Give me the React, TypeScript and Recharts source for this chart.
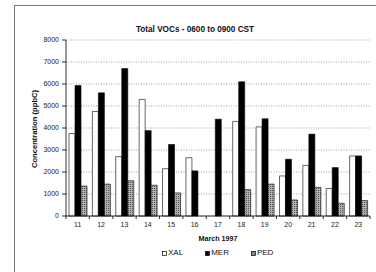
import { BarChart, Bar, XAxis, YAxis, CartesianGrid } from "recharts";

// March 1997 days
const days = ["11", "12", "13", "14", "15", "16", "17", "18", "19", "20", "21", "22", "23"];
// total VOCs, ppbC
const xal = [3750, 4750, 2700, 5300, 2150, 2650, 0, 4300, 4050, 1820, 2300, 1250, 2730];
const mer = [5930, 5600, 6700, 3880, 3250, 2050, 4400, 6100, 4420, 2580, 3720, 2200, 2730];
const ped = [1360, 1450, 1600, 1400, 1050, 0, 0, 1200, 1450, 730, 1300, 580, 700];
const yTicks = [0, 1000, 2000, 3000, 4000, 5000, 6000, 7000, 8000];

const series = [
  { key: "XAL", fill: "#ffffff" },
  { key: "MER", fill: "#000000" },
  { key: "PED", fill: "url(#pedHatch)" },
];

const FONT = "'Liberation Sans', Arial, sans-serif";

function DayTick(props: any) {
  const { x, y, payload, index, visibleTicksCount } = props;
  const half = payload.offset ?? 11.7;
  return (
    <g>
      <line x1={x - half} x2={x - half} y1={y - 8} y2={y - 5} stroke="#000" strokeWidth={0.8} />
      {index === visibleTicksCount - 1 && (
        <line x1={x + half} x2={x + half} y1={y - 8} y2={y - 5} stroke="#000" strokeWidth={0.8} />
      )}
      <text x={x} y={y + 2.5} textAnchor="middle" fontSize={7} fontFamily={FONT} fill="#222">
        {payload.value}
      </text>
    </g>
  );
}

export default function App() {
  const data = days.map((d, i) => ({ day: d, XAL: xal[i], MER: mer[i], PED: ped[i] }));

  return (
    <div style={{ position: "absolute", left: 0, top: 0, width: 376, height: 272, background: "#fff", overflow: "hidden" }}>
      <div
        style={{
          position: "absolute",
          left: 14,
          top: 5,
          width: 400,
          height: 300,
          borderTop: "1px solid #777",
          borderLeft: "1px solid #777",
        }}
      />
      <div
        style={{
          position: "absolute",
          left: 14,
          width: 362,
          top: 25,
          textAlign: "center",
          fontFamily: FONT,
          fontWeight: "bold",
          fontSize: 8.2,
          color: "#111",
        }}
      >
        Total VOCs - 0600 to 0900 CST
      </div>
      <div style={{ position: "absolute", left: 0, top: 0 }}>
        <BarChart
          width={376}
          height={272}
          data={data}
          margin={{ top: 40, right: 6, bottom: 26, left: 36 }}
          barGap={0}
          barSize={6}
        >
          <defs>
            <pattern id="pedHatch" width="2" height="2" patternUnits="userSpaceOnUse">
              <rect width="2" height="2" fill="#b0b0b0" />
              <rect width="1" height="1" fill="#555" />
            </pattern>
          </defs>
          <CartesianGrid vertical={false} stroke="#666" strokeDasharray="1 1.5" strokeWidth={0.6} />
          <XAxis
            dataKey="day"
            height={30}
            axisLine={{ stroke: "#000", strokeWidth: 0.8 }}
            tickLine={false}
            interval={0}
            tick={<DayTick />}
            label={{
              value: "March 1997",
              position: "insideBottom",
              offset: 5,
              style: { fontFamily: FONT, fontWeight: "bold", fontSize: 7.2, fill: "#111" },
            }}
          />
          <XAxis xAxisId="top" orientation="top" dataKey="day" tick={false} tickLine={false} height={0} axisLine={{ stroke: "#777", strokeWidth: 0.8 }} />
          <YAxis
            width={30}
            domain={[0, 8000]}
            ticks={yTicks}
            interval={0}
            tickSize={4}
            tickMargin={3}
            axisLine={{ stroke: "#000", strokeWidth: 0.8 }}
            tickLine={{ stroke: "#000", strokeWidth: 0.8 }}
            tick={{ fontSize: 7, fontFamily: FONT, fill: "#222" }}
            label={{
              value: "Concentration (ppbC)",
              angle: -90,
              position: "insideLeft",
              offset: -2,
              dy: 40,
              style: { fontFamily: FONT, fontWeight: "bold", fontSize: 7.6, fill: "#111" },
            }}
          />
          <YAxis yAxisId="right" orientation="right" width={0} tick={false} tickLine={false} axisLine={{ stroke: "#777", strokeWidth: 0.8 }} />
          {series.map((s) => (
            <Bar
              key={s.key}
              dataKey={s.key}
              fill={s.fill}
              stroke="#000"
              strokeWidth={0.6}
              isAnimationActive={false}
            />
          ))}
        </BarChart>
      </div>
      <div
        style={{
          position: "absolute",
          top: 248,
          left: 162,
          display: "flex",
          gap: 22,
          fontFamily: FONT,
          fontSize: 8,
          color: "#111",
          lineHeight: "10px",
        }}
      >
        {series.map((s) => (
          <div key={s.key} style={{ display: "flex", alignItems: "center" }}>
            <svg width={5} height={5} style={{ marginRight: 1 }}>
              <rect x={0.5} y={0.5} width={4} height={4} fill={s.key === "PED" ? "#888" : s.fill} stroke="#000" strokeWidth={0.7} />
            </svg>
            <span>{s.key}</span>
          </div>
        ))}
      </div>
    </div>
  );
}
